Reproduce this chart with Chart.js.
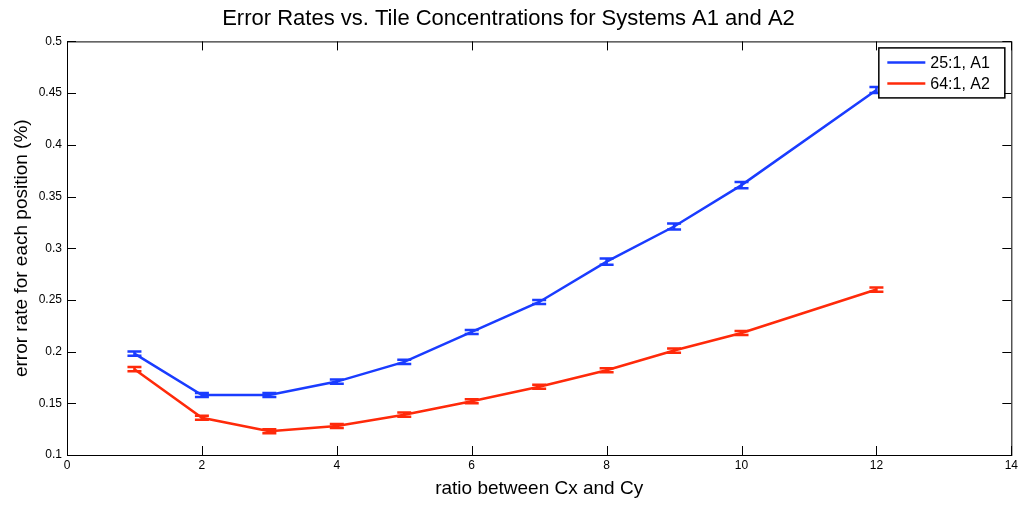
<!DOCTYPE html>
<html lang="en">
<head>
<meta charset="UTF-8">
<title>Error Rates vs. Tile Concentrations</title>
<script src="https://cdn.jsdelivr.net/npm/chart.js@4.4.0/dist/chart.umd.min.js"></script>
<style>
  html, body { margin: 0; padding: 0; background: #fff; }
  #wrap { width: 1021px; height: 506px; }
</style>
</head>
<body>
<div id="wrap"><canvas id="grafico" width="1021" height="506"></canvas></div>
<script>
// datos
const ratios = [1, 2, 3, 4, 5, 6, 7, 8, 9, 10, 12];
const errA1 = [0.198, 0.158, 0.158, 0.171, 0.190, 0.219, 0.248, 0.287, 0.321, 0.361, 0.453];
const errA2 = [0.183, 0.136, 0.123, 0.128, 0.139, 0.152, 0.166, 0.182, 0.201, 0.218, 0.260];
const barA1 = [0.002, 0.002, 0.002, 0.002, 0.002, 0.002, 0.002, 0.003, 0.003, 0.003, 0.003];
const barA2 = [0.002, 0.002, 0.002, 0.002, 0.002, 0.002, 0.002, 0.002, 0.002, 0.002, 0.002];
const seriesNames = ['25:1, A1', '64:1, A2'];
const xTicks = [0, 2, 4, 6, 8, 10, 12, 14];
const yTicks = [0.1, 0.15, 0.2, 0.25, 0.3, 0.35, 0.4, 0.45, 0.5];

const blue = '#1a3cff';
const red = '#ff2a0a';
const font = "'Liberation Sans', Arial, Helvetica, sans-serif";

// barras de error + caja estilo matlab + leyenda
const extras = {
  id: 'extras',
  afterDatasetsDraw(chart) {
    const c = chart.ctx;
    const xs = chart.scales.x, ys = chart.scales.y;
    const a = chart.chartArea;
    const bars = [barA1, barA2];
    chart.data.datasets.forEach((ds, i) => {
      c.save();
      c.strokeStyle = ds.borderColor;
      c.lineWidth = 2.5;
      ds.data.forEach((p, j) => {
        const px = xs.getPixelForValue(p.x);
        const top = ys.getPixelForValue(p.y + bars[i][j]);
        const bot = ys.getPixelForValue(p.y - bars[i][j]);
        c.beginPath();
        c.moveTo(px, top); c.lineTo(px, bot);
        c.moveTo(px - 7, top); c.lineTo(px + 7, top);
        c.moveTo(px - 7, bot); c.lineTo(px + 7, bot);
        c.stroke();
      });
      c.restore();
    });

    // caja y marcas hacia dentro
    c.save();
    c.strokeStyle = '#000';
    c.lineWidth = 1;
    c.strokeRect(a.left + 0.5, a.top + 0.5, a.right - a.left, a.bottom - a.top);
    c.beginPath();
    xTicks.forEach(v => {
      const px = Math.round(xs.getPixelForValue(v)) + 0.5;
      c.moveTo(px, a.bottom); c.lineTo(px, a.bottom - 9);
      c.moveTo(px, a.top); c.lineTo(px, a.top + 9);
    });
    yTicks.forEach(v => {
      const py = Math.round(ys.getPixelForValue(v)) + 0.5;
      c.moveTo(a.left, py); c.lineTo(a.left + 9, py);
      c.moveTo(a.right, py); c.lineTo(a.right - 9, py);
    });
    c.stroke();

    // leyenda
    const lx = a.right - 133, ly = a.top + 6, lw = 126, lh = 50;
    c.fillStyle = '#fff';
    c.fillRect(lx, ly, lw, lh);
    c.lineWidth = 1.5;
    c.strokeRect(lx + 0.5, ly + 0.5, lw, lh);
    c.font = '16px ' + font;
    c.textBaseline = 'middle';
    chart.data.datasets.forEach((ds, i) => {
      const yy = ly + 15 + i * 21;
      c.strokeStyle = ds.borderColor;
      c.lineWidth = 2.5;
      c.beginPath();
      c.moveTo(lx + 9, yy); c.lineTo(lx + 47, yy);
      c.stroke();
      c.fillStyle = '#000';
      c.fillText(ds.label, lx + 52, yy + 1);
    });
    c.restore();
  }
};

new Chart(document.getElementById('grafico'), {
  type: 'line',
  data: {
    datasets: [
      { label: seriesNames[0], data: ratios.map((r, i) => ({ x: r, y: errA1[i] })),
        borderColor: blue, backgroundColor: blue, borderWidth: 2.5, pointRadius: 0, fill: false, tension: 0 },
      { label: seriesNames[1], data: ratios.map((r, i) => ({ x: r, y: errA2[i] })),
        borderColor: red, backgroundColor: red, borderWidth: 2.5, pointRadius: 0, fill: false, tension: 0 }
    ]
  },
  options: {
    responsive: false,
    animation: false,
    layout: { padding: { left: 0, right: 4, top: 0, bottom: 0 } },
    plugins: {
      legend: { display: false },
      tooltip: { enabled: false },
      title: {
        display: true,
        text: 'Error Rates vs. Tile Concentrations for Systems A1 and A2',
        color: '#000',
        font: { family: font, size: 22, weight: 'normal' },
        padding: { top: 6, bottom: 9 }
      }
    },
    scales: {
      x: {
        type: 'linear', min: 0, max: 14,
        afterBuildTicks: s => { s.ticks = xTicks.map(v => ({ value: v })); },
        ticks: { color: '#000', font: { family: font, size: 12 }, padding: 3, maxRotation: 0 },
        grid: { display: false, drawTicks: false },
        border: { display: false },
        title: { display: true, text: 'ratio between Cx and Cy', color: '#000',
                 font: { family: font, size: 19 }, padding: { top: 4, bottom: 6 } },
        afterFit: s => { s.height = 51; }
      },
      y: {
        type: 'linear', min: 0.1, max: 0.5,
        afterBuildTicks: s => { s.ticks = yTicks.map(v => ({ value: v })); },
        ticks: { color: '#000', font: { family: font, size: 12 }, padding: 5,
                 callback: v => String(+v.toFixed(2)) },
        grid: { display: false, drawTicks: false },
        border: { display: false },
        title: { display: true, text: 'error rate for each position (%)', color: '#000',
                 font: { family: font, size: 19 }, padding: { top: 10, bottom: 0 } },
        afterFit: s => { s.width = 67; }
      }
    }
  },
  plugins: [extras]
});
</script>
</body>
</html>
